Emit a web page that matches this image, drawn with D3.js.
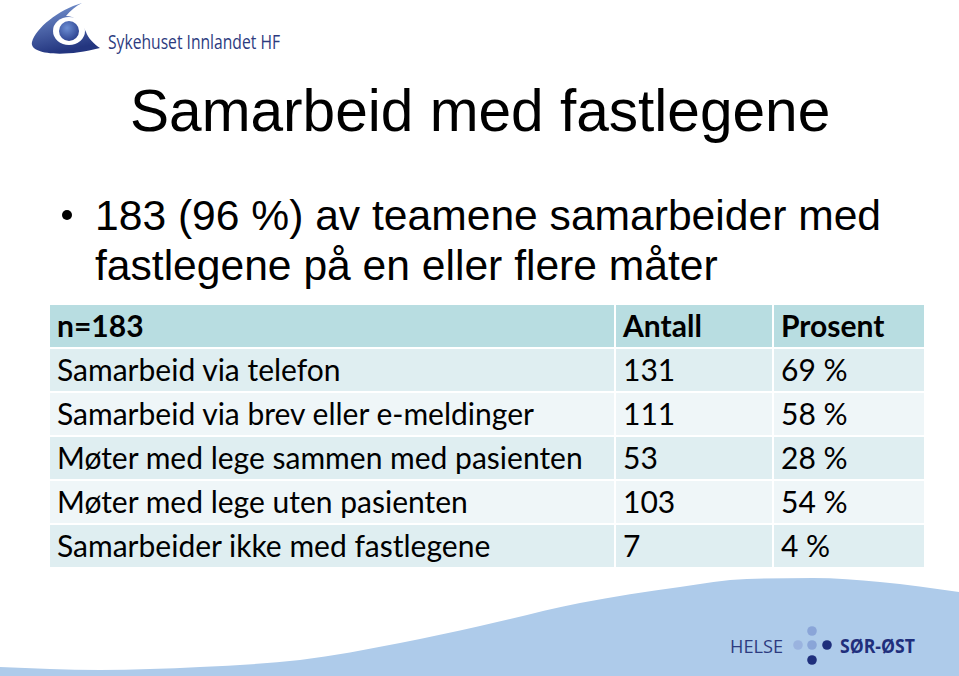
<!DOCTYPE html>
<html><head><meta charset="utf-8">
<script src="https://cdn.jsdelivr.net/npm/d3@7"></script>
<style>html,body{margin:0;padding:0;background:#fff;overflow:hidden}</style>
</head><body>
<svg id="c" width="959" height="676"></svg>
<script>
// ---- data ----
const title = "Samarbeid med fastlegene";
const bulletLines = ["183 (96 %) av teamene samarbeider med", "fastlegene på en eller flere måter"];
const headers = ["n=183", "Antall", "Prosent"];
const categories = [
  "Samarbeid via telefon",
  "Samarbeid via brev eller e-meldinger",
  "Møter med lege sammen med pasienten",
  "Møter med lege uten pasienten",
  "Samarbeider ikke med fastlegene"
];
const counts = [131, 111, 53, 103, 7];
const percents = [69, 58, 28, 54, 4];

const svg = d3.select("#c");
const W = 959, H = 676;

// ---- bottom wave ----
const wavePts = [[0,667],[100,670],[200,667],[300,660],[400,643],[480,626],[580,603],[680,587],[747,579],[813,578],[880,582],[959,592]];
const waveLine = d3.line().curve(d3.curveMonotoneX);
svg.append("path")
  .attr("d", waveLine(wavePts) + `L${W},${H}L0,${H}Z`)
  .attr("fill", "#aecbea");

// ---- top-left logo ----
const defs = svg.append("defs");
const g1 = defs.append("linearGradient").attr("id","eyeG").attr("x1","0").attr("y1","0").attr("x2","0.3").attr("y2","1");
g1.append("stop").attr("offset","0").attr("stop-color","#7b9ad6");
g1.append("stop").attr("offset","1").attr("stop-color","#23357f");
const g2 = defs.append("radialGradient").attr("id","dotG").attr("cx","0.4").attr("cy","0.35").attr("r","0.7");
g2.append("stop").attr("offset","0").attr("stop-color","#6d8fd4");
g2.append("stop").attr("offset","1").attr("stop-color","#2a3f8d");
const logo = svg.append("g");
logo.append("path")
  .attr("d","M82,3 C58,10 36,28 32,42 C29,54 62,58 100,48 C94,44 88,38 86,32 C82,22 74,16 66,16 C70,11 76,6 82,3 Z")
  .attr("fill","url(#eyeG)");
logo.append("ellipse").attr("cx",69).attr("cy",31).attr("rx",16).attr("ry",14).attr("fill","#fff");
logo.append("circle").attr("cx",69).attr("cy",31).attr("r",10).attr("fill","url(#dotG)");
logo.append("text").attr("x",108).attr("y",49)
  .attr("font-family","Open Sans").attr("font-size",20).attr("fill","#2d3b80")
  .attr("textLength",172).attr("lengthAdjust","spacingAndGlyphs")
  .text("Sykehuset Innlandet HF");

// ---- title ----
svg.append("text").attr("x",130).attr("y",131)
  .attr("font-family","Liberation Sans, Arial, sans-serif").attr("font-size",58.6).attr("fill","#000")
  .text(title);

// ---- bullet ----
svg.append("circle").attr("cx",67).attr("cy",215).attr("r",5).attr("fill","#000");
svg.selectAll("text.bl").data(bulletLines).join("text").attr("class","bl")
  .attr("x",95).attr("y",(d,i)=>230+i*50)
  .attr("font-family","Liberation Sans, Arial, sans-serif").attr("font-size",42.6).attr("fill","#000")
  .text(d=>d);

// ---- table ----
const rowKeys = ["__header__", ...categories];
const y = d3.scaleBand().domain(rowKeys).range([304, 568]).paddingInner(2/44).paddingOuter(1/44);
const colEdges = [[50,614],[616,772],[774,924]];
const rowFill = (k,i) => i===0 ? "#b8dde1" : (i%2===1 ? "#dfeef1" : "#eff6f8");

const rowsData = [
  {key:"__header__", cells: headers, bold:true},
  ...categories.map((c,i)=>({key:c, cells:[c, String(counts[i]), percents[i] + " %"], bold:false}))
];

const tbl = svg.append("g");
rowsData.forEach((r, i) => {
  colEdges.forEach(([x0,x1]) => {
    tbl.append("rect").attr("x",x0).attr("y",y(r.key)).attr("width",x1-x0).attr("height",y.bandwidth())
      .attr("fill", rowFill(r.key,i));
  });
});

const tfont = "Lato, 'Open Sans', sans-serif";
const probe = svg.append("text").attr("font-family",tfont).attr("font-size",32).text(categories[2]);
const wProbe = probe.node().getComputedTextLength();
probe.remove();
const fs = 32 * 526 / wProbe;

rowsData.forEach((r, i) => {
  r.cells.forEach((t, j) => {
    tbl.append("text")
      .attr("x", colEdges[j][0] + 7)
      .attr("y", y(r.key) + y.bandwidth()/2 + 11)
      .attr("font-family", tfont).attr("font-size", fs)
      .attr("font-weight", r.bold ? 700 : 400).attr("fill","#000")
      .text(t);
  });
});

// ---- bottom-right logo ----
const hs = svg.append("g");
hs.append("text").attr("x",730).attr("y",653).attr("font-family","Open Sans").attr("font-size",19)
  .attr("fill","#2d3b80").attr("textLength",53).attr("lengthAdjust","spacingAndGlyphs").text("HELSE");
const dots = [[798,645,"#9ab3df"],[812,645,"#8aa5d8"],[827,645,"#1f2f7c"],[812,631,"#8aa5d8"],[812,660,"#1f2f7c"]];
hs.selectAll("circle").data(dots).join("circle").attr("cx",d=>d[0]).attr("cy",d=>d[1]).attr("r",4.8).attr("fill",d=>d[2]);
hs.append("text").attr("x",840).attr("y",653).attr("font-family","Open Sans").attr("font-weight",700).attr("font-size",19)
  .attr("fill","#1f2f7c").attr("textLength",75).attr("lengthAdjust","spacingAndGlyphs").text("SØR-ØST");
</script>
</body></html>
